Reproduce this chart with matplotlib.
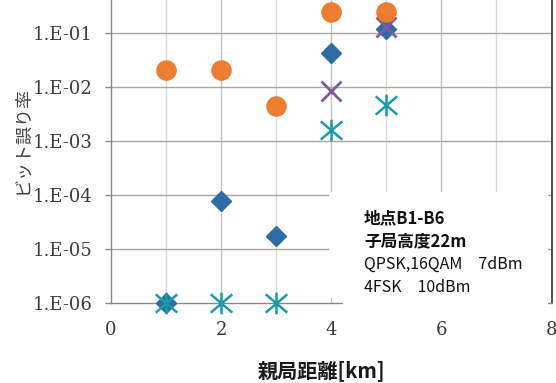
import matplotlib
matplotlib.use("Agg")
import matplotlib.pyplot as plt
from matplotlib.path import Path
from matplotlib.patches import Polygon
from matplotlib.ticker import FixedLocator, NullFormatter

# --- data -------------------------------------------------------------
circle_x = [1, 2, 3, 4, 5]
circle_ber = [2.05e-2, 2.1e-2, 4.4e-3, 2.5e-1, 2.45e-1]

diamond_x = [1, 2, 3, 4, 5]
diamond_ber = [1e-6, 7.8e-5, 1.74e-5, 4.25e-2, 1.2e-1]

cross_x = [4, 5]
cross_ber = [8.6e-3, 1.3e-1]

star_x = [1, 2, 3, 4, 5]
star_ber = [1e-6, 1e-6, 1e-6, 1.6e-3, 4.7e-3]

x_ticks = [0, 2, 4, 6, 8]
x_minor = [1, 3, 5, 7]
y_ticks = [1e-6, 1e-5, 1e-4, 1e-3, 1e-2, 1e-1]
y_tick_labels = ["1.E-06", "1.E-05", "1.E-04", "1.E-03", "1.E-02", "1.E-01"]

info_lines = ["地点B1-B6", "子局高度22m", "QPSK,16QAM\u30007dBm", "4FSK\u300010dBm"]

# --- figure -------------------------------------------------------------
W, H = 556, 383
fig = plt.figure(figsize=(W / 100, H / 100), dpi=100)
fig.patch.set_facecolor("white")


def fx(x):
    return x / W


def fy(y):
    return 1 - y / H


ax_left, ax_right, ax_bottom, ax_top = 111, 551.5, 302.7, -20.6
ax = fig.add_axes([fx(ax_left), fy(ax_bottom), (ax_right - ax_left) / W,
                   (ax_bottom - ax_top) / H])
ax.set_yscale("log")
ax.set_xlim(0, 8)
ax.set_ylim(1e-6, 1e0)

# grid lines
for xv in x_ticks[1:-1]:
    ax.axvline(xv, color="#c2c2ba", lw=1.0, zorder=0.5)
for xv in x_minor:
    ax.axvline(xv, color="#dadad2", lw=1.0, zorder=0.5)
for yv in y_ticks[1:]:
    ax.axhline(yv, color="#a8a8a0", lw=1.0, zorder=0.6)

# spines
for side in ("left", "bottom"):
    ax.spines[side].set_color("#8a8a86")
    ax.spines[side].set_linewidth(1.0)
ax.spines["right"].set_color("#303030")
ax.spines["right"].set_linewidth(1.2)
ax.spines["top"].set_visible(False)

# ticks
ax.xaxis.set_major_locator(FixedLocator(x_ticks))
ax.set_xticklabels([str(v) for v in x_ticks])
ax.yaxis.set_major_locator(FixedLocator(y_ticks))
ax.yaxis.set_minor_formatter(NullFormatter())
ax.yaxis.set_minor_locator(FixedLocator([]))
ax.set_yticklabels(y_tick_labels)
ax.tick_params(axis="y", which="major", length=4.5, width=1.0, color="#8a8a86",
               pad=9, labelsize=13, labelcolor="#3c3c3c")
ax.tick_params(axis="x", which="major", length=0, pad=13, labelsize=13,
               labelcolor="#3c3c3c")
for lbl in ax.get_xticklabels() + ax.get_yticklabels():
    lbl.set_fontfamily("DejaVu Serif")

# asterisk marker: vertical bar plus an X
star_path = Path(
    [(0, -1), (0, 1), (-1, -0.85), (1, 0.85), (-1, 0.85), (1, -0.85)],
    [Path.MOVETO, Path.LINETO, Path.MOVETO, Path.LINETO, Path.MOVETO, Path.LINETO],
)

ax.plot(diamond_x, diamond_ber, linestyle="none", marker="D", ms=10.5,
        color="#2d6ca6", mec="#2d6ca6", clip_on=False, zorder=3)
ax.plot(cross_x, cross_ber, linestyle="none", marker="x", ms=14, mew=2.0,
        color="#7d5aa0", clip_on=False, zorder=4)
ax.plot(star_x, star_ber, linestyle="none", marker=star_path, ms=15.5, mew=1.8,
        color="#1b9ba9", clip_on=False, zorder=5)
ax.plot(circle_x, circle_ber, linestyle="none", marker="o", ms=13.8,
        color="#ed7d31", mec="#ed7d31", clip_on=False, zorder=6)

# axis titles
fig.text(fx(22), fy(140), "ビット誤り率", rotation=90, ha="center", va="center",
         fontsize=13, family=["Noto Sans CJK JP", "DejaVu Sans"], color="#404040")
fig.text(fx(321), fy(371), "親局距離[km]", ha="center", va="center",
         fontsize=14.5, fontweight="bold",
         family=["Noto Sans CJK JP", "DejaVu Sans"], color="#1a1a1a")

# white annotation panel
panel = Polygon(
    [(fx(329), fy(192)), (fx(548), fy(192)), (fx(548), fy(306)),
     (fx(343), fy(306)), (fx(343), fy(298)), (fx(329), fy(298))],
    closed=True, transform=fig.transFigure, facecolor="white",
    edgecolor="none", zorder=10,
)
fig.add_artist(panel)

line_y = [218, 241, 264, 287]
line_size = [12, 12, 11.5, 11.5]
line_weight = ["bold", "bold", "normal", "normal"]
for txt, yy, fs, fw in zip(info_lines, line_y, line_size, line_weight):
    fig.text(fx(364), fy(yy), txt, ha="left", va="center", fontsize=fs,
             fontweight=fw, family=["Noto Sans CJK JP", "DejaVu Sans"],
             color="#111111", zorder=11)

fig.savefig("out.png", dpi=100, facecolor="white")
